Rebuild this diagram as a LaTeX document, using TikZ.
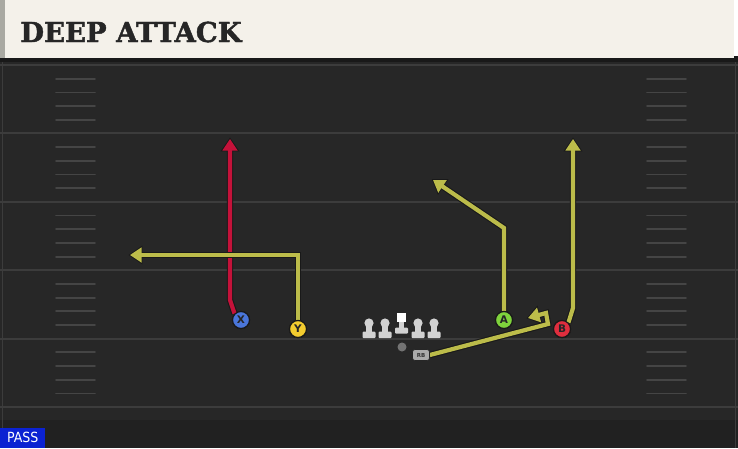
\documentclass[tikz,border=0pt]{standalone}
\usepackage{fontspec}
\setsansfont{DejaVu Sans}
\newfontfamily\titlefont[FakeBold=1.6]{DejaVu Serif Bold}
\newfontfamily\passfont{DejaVu Sans Condensed}
\usetikzlibrary{arrows.meta}
\definecolor{field}{HTML}{272727}
\definecolor{fieldlow}{HTML}{212121}
\definecolor{yard}{HTML}{3C3C3C}
\definecolor{hash}{HTML}{454545}
\definecolor{header}{HTML}{F4F1EA}
\definecolor{headstrip}{HTML}{A9A9A2}
\definecolor{routeY}{HTML}{BCBC4A}
\definecolor{routeR}{HTML}{C4123A}
\definecolor{pBlue}{HTML}{4A76DA}
\definecolor{pYellow}{HTML}{F3CC2F}
\definecolor{pGreen}{HTML}{7FD33C}
\definecolor{pRed}{HTML}{DF2E3E}
\definecolor{lineman}{HTML}{D2D2D2}
\definecolor{passblue}{HTML}{0B22D2}
\tikzset{
  route/.style={line width=4.2pt, draw=#1,
    preaction={draw=black!90, line width=6.4pt, -{Triangle[length=14pt,width=18pt]}, shorten >=-1.6pt},
    -{Triangle[length=11.5pt,width=14.5pt]}},
  player/.style={circle, draw=black!90, line width=1.2pt, fill=#1, minimum size=17pt, inner sep=0pt,
    font=\sffamily\bfseries\fontsize{10.5}{10.5}\selectfont, text=black!85},
  rbstyle/.style={rounded corners=2.5pt, fill=black!33, draw=black!85, line width=0.7pt, minimum width=17pt, minimum height=11pt, inner sep=0pt,
    font=\sffamily\bfseries\fontsize{5.5}{5.5}\selectfont, text=black!80},
  yardline/.style={draw=yard, line width=2pt},
  hashmark/.style={draw=hash, line width=1.8pt, line cap=round},
  lm/.style={fill=lineman, draw=none}
}
\begin{document}
\begin{tikzpicture}[x=1pt,y=-1pt]
\useasboundingbox (0,0) rectangle (738,448);
% field
\fill[field] (0,58) rectangle (738,448);
\fill[fieldlow] (0,420) rectangle (738,448);
\draw[yard, line width=1pt] (2,60) -- (2,448);
\draw[yard, line width=1pt] (735,60) -- (735,448);
% yard lines
\foreach \y in {65,133.4,201.8,270.2,338.6,407} {
  \draw[yardline] (0,\y) -- (738,\y);
}
% hash marks
\foreach \b in {65,133.4,201.8,270.2,338.6} {
  \foreach \k in {1,2,3,4} {
    \draw[hashmark] (56,\b+13.7*\k) -- (95,\b+13.7*\k);
    \draw[hashmark] (647,\b+13.7*\k) -- (686,\b+13.7*\k);
  }
}
% header
\fill[black!90] (0,56) rectangle (738,62);
\fill[header] (0,0) rectangle (734,58);
\fill[headstrip] (0,0) rectangle (5,58);
\node[anchor=west, inner sep=0pt, text=black!85] (title) at (20,32)
  {\titlefont\fontsize{27.5}{27.5}\selectfont DEEP ATTACK};
% players
\node[player=pBlue] (X) at (241,320) {X};
\node[player=pYellow] (Y) at (298,329) {Y};
\node[player=pGreen] (A) at (504,320) {A};
\node[player=pRed] (B) at (562,329) {B};
\node[circle, fill=black!55, minimum size=9pt, inner sep=0pt] (QB) at (402,347) {};
\node[rbstyle] (RB) at (421,355) {RB};
% route end points
\coordinate (xb) at (230,300);
\coordinate (xe) at (230,139);
\coordinate (yb) at (298,255);
\coordinate (ye) at (130,255);
\coordinate (ab) at (504,228);
\coordinate (ae) at (433,180);
\coordinate (bb) at (573,308);
\coordinate (be) at (573,139);
\coordinate (r1) at (548,324);
\coordinate (r2) at (546,313);
\coordinate (re) at (528,318);
% routes
\draw[route=routeR] (X.north west) -- (xb) -- (xe);
\draw[route=routeY] (Y.north) -- (yb) -- (ye);
\draw[route=routeY] (A.north) -- (ab) -- (ae);
\draw[route=routeY] (B.north east) -- (bb) -- (be);
\draw[route=routeY] (RB.east) -- (r1) -- (r2) -- (re);
% redraw players on top
\node[player=pBlue] at (X) {X};
\node[player=pYellow] at (Y) {Y};
\node[player=pGreen] at (A) {A};
\node[player=pRed] at (B) {B};
\node[rbstyle] at (RB) {RB};
% linemen
\foreach \x in {369,385,418,434} {
  \fill[lm] (\x,323) circle (4.6);
  \fill[lm] (\x-2.6,323) rectangle (\x+2.6,333);
  \fill[lm, rounded corners=1pt] (\x-6.5,331.5) rectangle (\x+6.5,338);
}
\fill[white] (396.5,313) rectangle (406,322);
\fill[lm] (398.6,322) rectangle (403.9,329);
\fill[lm, rounded corners=1pt] (395,327.5) rectangle (408,333.5);
% PASS label
\node[fill=passblue, anchor=south west, minimum width=45pt, minimum height=20pt, inner sep=0pt,
  text=white, font=\passfont\fontsize{14}{14}\selectfont] (pass) at (0,448) {PASS};
\end{tikzpicture}
\end{document}
